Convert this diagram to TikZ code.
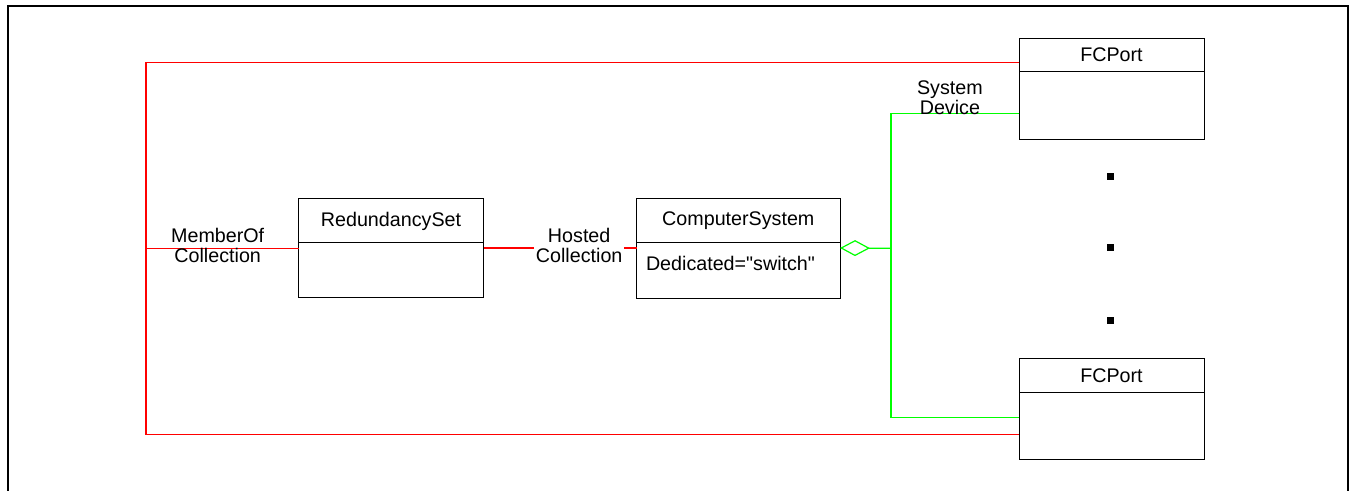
\documentclass[tikz,border=0pt]{standalone}
\usepackage{fontspec}
\setmainfont{Liberation Sans}[Ligatures=TeXOff]
\usetikzlibrary{positioning}
\usetikzlibrary{arrows.meta}

\tikzset{
  cls/.style={draw=black, line width=0.5pt, inner sep=0pt, outer sep=0pt},
  assoc/.style={draw=red, line width=0.6pt},
  agg/.style={draw=green, line width=0.6pt},
  lbl/.style={align=center, inner sep=0pt, text=black},
  dot/.style={fill=black, inner sep=0pt, minimum size=3.5pt},
  frame/.style={draw=black, line width=1.15pt}
}

\begin{document}
\begin{tikzpicture}[x=0.5pt, y=-0.5pt, font=\fontsize{9.85}{10}\selectfont]

\useasboundingbox (0,0) rectangle (1354,491);
\draw[frame] (8,491) |- (1348,6) -- (1348,491);

\node[cls, minimum width=92.5pt, minimum height=22pt] (rsh) at (391,221) {RedundancySet};
\node[cls, minimum width=92.5pt, minimum height=27.5pt, below=0pt of rsh] (rsb) {};

\node[cls, minimum width=101.7pt, minimum height=22pt] (csh) at (738.3,220.3) {ComputerSystem};
\node[cls, minimum width=101.7pt, minimum height=28.3pt, below=0pt of csh] (csb) {};
\node[anchor=base west, inner sep=0pt] (csa) at ([xshift=4.5pt, yshift=-14pt]csb.north west) {Dedicated="switch"};

\node[cls, minimum width=92.5pt, minimum height=16.4pt] (fc1h) at (1111.5,54.7) {FCPort};
\node[cls, minimum width=92.5pt, minimum height=34.1pt, below=0pt of fc1h] (fc1b) {};

\node[cls, minimum width=92.5pt, minimum height=17pt] (fc2h) at (1111.5,375.3) {FCPort};
\node[cls, minimum width=92.5pt, minimum height=33.5pt, below=0pt of fc2h] (fc2b) {};

\foreach \y [count=\i] in {177,248,321}
  \node[dot] (dot\i) at (1110,\y) {};

\coordinate (hs) at ([yshift=-2.5pt]rsb.north east);
\coordinate (rj) at (146,248.3);
\coordinate (gj) at (891,248.3);

\draw[assoc] (rj) -- node[lbl, pos=0.47, yshift=1.5pt] (moc) {MemberOf\\Collection} (rj -| rsb.west);
\draw[assoc] (hs) -- node[lbl, pos=0.625, yshift=1.5pt, fill=white, inner xsep=1pt] (hc) {Hosted\\Collection} (hs -| csb.west);
\draw[assoc] ([yshift=-4pt]fc1h.west) -| (rj) |- ([yshift=-4.25pt]fc2b.west);

\draw[agg, {Diamond[open, length=15pt, width=8pt]}-] (hs -| csb.east) -- (gj);
\draw[agg] (gj) |- node[lbl, pos=0.73, yshift=7.75pt] (sd) {System\\Device} ([yshift=-4pt]fc1b.west);
\draw[agg] (gj) |- ([yshift=4.2pt]fc2b.west);

\end{tikzpicture}
\end{document}
